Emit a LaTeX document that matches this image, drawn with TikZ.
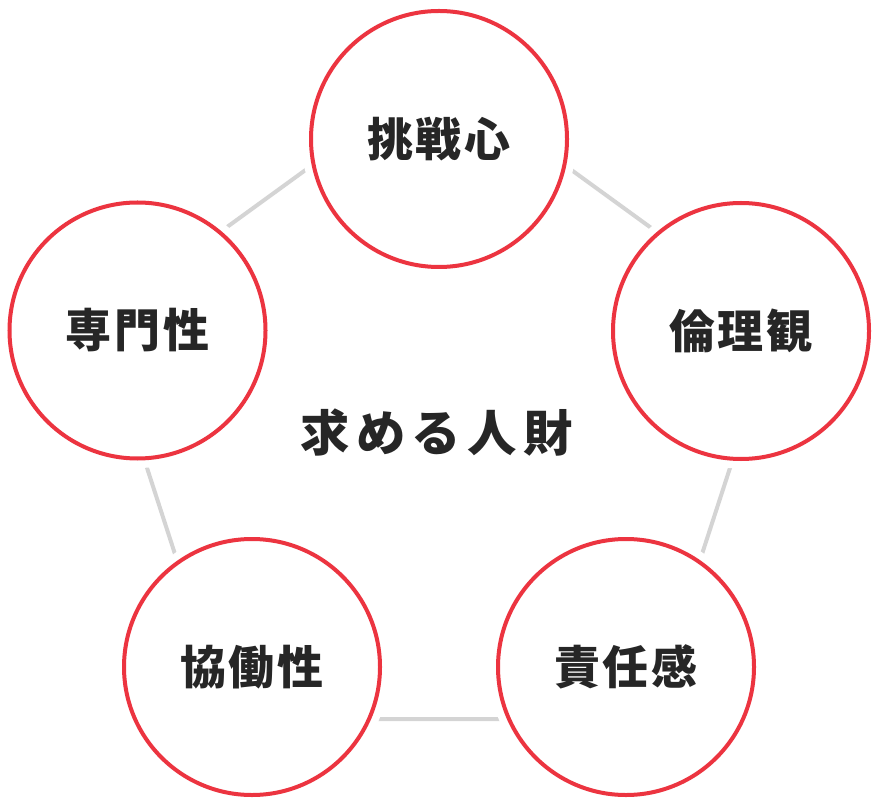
\documentclass[tikz,border=0pt]{standalone}
\usepackage{fontspec}
\usepackage{tikz}
\newfontfamily\jpfont{Noto Sans CJK JP}[LetterSpace=6]
\newfontfamily\jptitle{Noto Sans CJK JP}[LetterSpace=13]
\definecolor{ringred}{RGB}{236,52,64}
\definecolor{linegray}{RGB}{212,212,212}
\definecolor{textdark}{RGB}{38,38,38}

\begin{document}
\begin{tikzpicture}[
    x=0.75pt, y=0.75pt,
    ring/.style={circle, draw=ringred, line width=3pt, fill=white, minimum size=192pt, inner sep=0pt,
      preaction={draw=white, line width=14.25pt},
      font=\jpfont\bfseries\fontsize{34.5pt}{40pt}\selectfont, text=textdark},
    edge/.style={draw=linegray, line width=3pt},
    title/.style={font=\jptitle\bfseries\fontsize{37pt}{43pt}\selectfont, text=textdark},
  ]
  \useasboundingbox (0,0) rectangle (877,804);
  \coordinate (mid) at (438.5,373.6);
  \foreach \i in {0,...,4}
    \path (mid) ++(18+72*\i:357) coordinate (p\i);
  \draw[edge] (p0) -- (p1) -- (p2) -- (p3) -- (p4) -- cycle;
  \node[ring] (challenge) at (439,665) {挑戦心};
  \node[ring] (ethics) at (741,473) {倫理観};
  \node[ring] (duty) at (626,137) {責任感};
  \node[ring] (teamwork) at (252,137) {協働性};
  \node[ring] (expertise) at (137.5,473.5) {専門性};
  \node[title] (talent) at (436.5,371.5) {求める人財};
\end{tikzpicture}
\end{document}
